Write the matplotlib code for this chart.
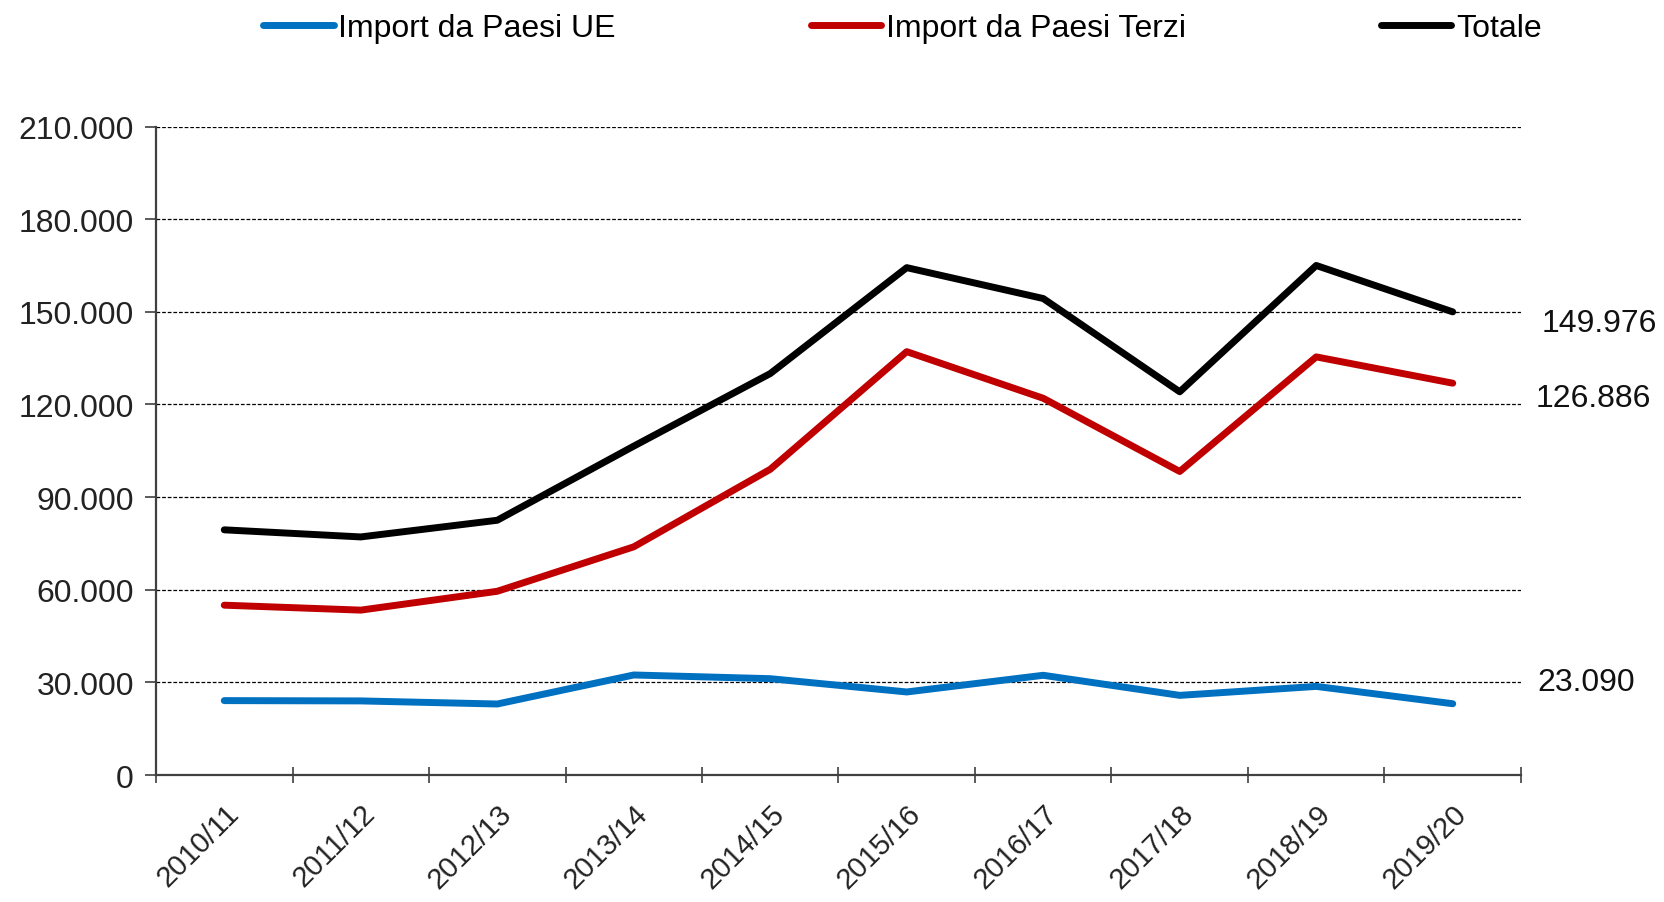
import matplotlib
matplotlib.use("Agg")
import matplotlib.pyplot as plt
import numpy as np

# data
seasons = ["2010/11", "2011/12", "2012/13", "2013/14", "2014/15",
           "2015/16", "2016/17", "2017/18", "2018/19", "2019/20"]
import_ue = [24100, 24000, 23000, 32400, 31200, 26900, 32300, 25800, 28700, 23090]
import_terzi = [55000, 53400, 59500, 73900, 99000, 137100, 122000, 98300, 135400, 126886]
totale = [79400, 77100, 82500, 106500, 130000, 164300, 154300, 124100, 165000, 149976]

yticks = [0, 30000, 60000, 90000, 120000, 150000, 180000, 210000]

plt.rcParams['font.family'] = ['Liberation Sans', 'DejaVu Sans']

def fmt(v):
	return "{:,}".format(int(v)).replace(",", ".")

fig = plt.figure(figsize=(16.65, 9.03), dpi=100)
ax = fig.add_axes([0.0937, 0.1406, 0.8198, 0.7182])

x = np.arange(len(seasons))
l1, = ax.plot(x, import_ue, color="#0070C0", lw=5, solid_capstyle="round", label="Import da Paesi UE")
l2, = ax.plot(x, import_terzi, color="#C00000", lw=5, solid_capstyle="round", label="Import da Paesi Terzi")
l3, = ax.plot(x, totale, color="#000000", lw=5, solid_capstyle="round", label="Totale")

ax.set_xlim(-0.5, len(seasons) - 0.5)
ax.set_ylim(0, 210000)

# gridlines
for v in yticks[1:]:
	ax.axhline(v, color="black", lw=0.9, ls=(0, (3, 1.5)), zorder=0)

ax.set_yticks(yticks)
ax.set_yticklabels([fmt(v) for v in yticks], fontsize=23, color="#222222")
ax.tick_params(axis="y", length=8, width=1.2, color="#404040", pad=8)

ax.set_xticks(np.arange(-0.5, len(seasons), 1.0))
ax.set_xticklabels([])
ax.tick_params(axis="x", which="major", length=12, width=1.2, color="#404040", direction="inout")
ax.set_xticks(x, minor=True)
ax.set_xticklabels(seasons, minor=True, rotation=45, ha="right", rotation_mode="anchor", fontsize=21, color="#222222")
ax.tick_params(axis="x", which="minor", length=0, pad=17)

for s in ["top", "right"]:
	ax.spines[s].set_visible(False)
for s in ["left", "bottom"]:
	ax.spines[s].set_color("#404040")
	ax.spines[s].set_linewidth(1.6)

# end labels
ax.annotate(fmt(totale[-1]), xy=(x[-1], totale[-1]), xytext=(64, -8), textcoords="offset points",
	ha="left", va="center", fontsize=23, color="#111111", annotation_clip=False)
ax.annotate(fmt(import_terzi[-1]), xy=(x[-1], import_terzi[-1]), xytext=(60, -11), textcoords="offset points",
	ha="left", va="center", fontsize=23, color="#111111", annotation_clip=False)
ax.annotate(fmt(import_ue[-1]), xy=(x[-1], import_ue[-1]), xytext=(61, 16), textcoords="offset points",
	ha="left", va="center", fontsize=23, color="#111111", annotation_clip=False)

fig.legend(handles=[l1, l2, l3], loc="center", bbox_to_anchor=(0.542, 0.968), ncol=3, frameon=False,
	fontsize=23, handlelength=2.2, handletextpad=0.15, columnspacing=6.1)

fig.savefig("out.png", dpi=100)
